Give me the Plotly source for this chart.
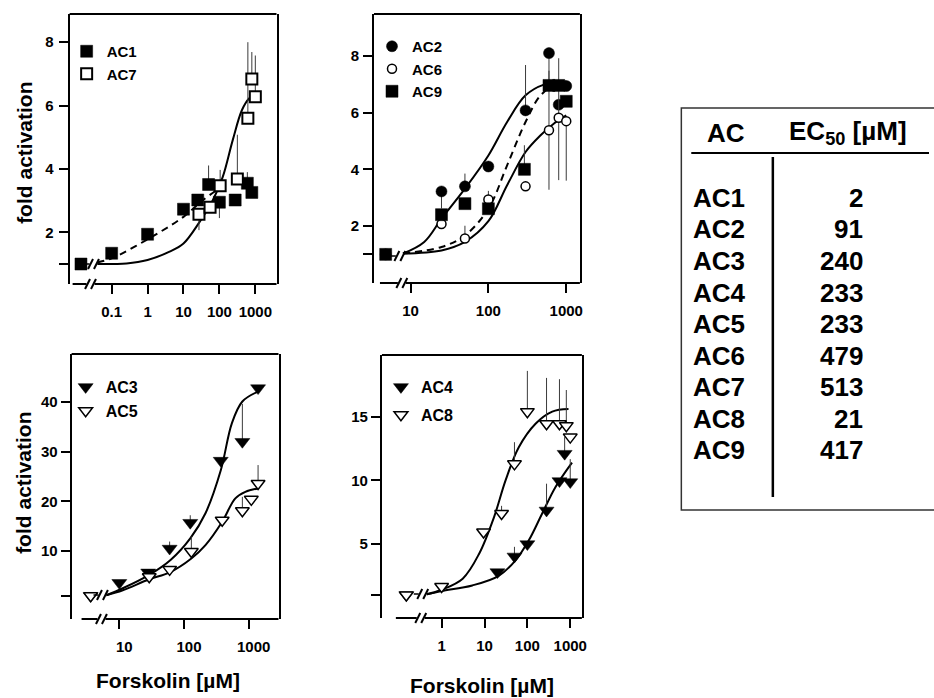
import plotly.graph_objects as go

FIG_W, FIG_H = 934, 698
FONT = "Liberation Sans, Arial, Helvetica, sans-serif"

# ---------------- data ----------------
# Panel 1: AC1 / AC7
ac1_x = [0.014, 0.1, 1, 10, 25, 50, 100, 275, 600, 800]
ac1_y = [1.0, 1.34, 1.94, 2.73, 3.02, 3.51, 2.95, 3.02, 3.55, 3.26]
ac1_up = [0, 0, 0, 0, 0, 0.6, 0, 0, 0.35, 0]
ac1_dn = [0, 0, 0, 0, 0, 0, 0.5, 0, 0, 0]
ac7_x = [27, 55, 105, 316, 620, 800, 1000]
ac7_y = [2.57, 2.79, 3.47, 3.68, 5.6, 6.84, 6.28]
ac7_up = [0, 0, 0.5, 1.4, 2.4, 0.85, 1.3]
ac7_dn = [0.5, 0, 0, 0, 0, 0, 0]
ac1_fit_x = [0.04, 0.1, 1, 10, 35, 100]
ac1_fit_y = [1.05, 1.18, 1.78, 2.49, 3.02, 3.39]
ac7_fit_x = [0.04, 0.26, 1, 4.1, 10, 27, 66, 124, 235, 425, 680, 800]
ac7_fit_y = [1.0, 1.02, 1.13, 1.39, 1.65, 2.3, 3.02, 3.75, 4.91, 5.86, 6.23, 6.28]

# Panel 2: AC2 / AC6 / AC9
ac2_x = [4.8, 25, 50, 100, 300, 600, 800, 1000]
ac2_y = [1.0, 3.22, 3.40, 4.10, 6.08, 8.10, 6.28, 6.94]
ac2_up = [0, 0, 0.45, 0, 1.6, 0, 0, 0]
ac2_dn = [0, 0.6, 0, 0, 0, 1.0, 0, 0]
ac6_x = [4.8, 25, 50, 100, 300, 600, 800, 1000]
ac6_y = [1.0, 2.07, 1.56, 2.94, 3.40, 5.38, 5.82, 5.70]
ac6_up = [0, 0, 0.45, 0.3, 0, 2.1, 2.1, 0]
ac6_dn = [0, 0, 0, 0, 0, 2.1, 2.2, 2.1]
ac9_x = [4.8, 25, 50, 100, 290, 600, 800, 1000]
ac9_y = [1.0, 2.40, 2.79, 2.61, 4.00, 6.96, 6.96, 6.40]
ac9_up = [0, 0, 0, 0, 0.85, 0, 0, 0]
ac9_dn = [0, 0, 0, 0, 0, 0, 0, 0]
ac2_fit_x = [8, 15, 25, 50, 100, 174, 300, 516, 1000]
ac2_fit_y = [1.03, 1.44, 2.26, 3.32, 4.49, 5.67, 6.61, 6.99, 7.1]
ac9_fit_x = [8, 25, 50, 100, 174, 300, 468, 690, 1000]
ac9_fit_y = [1.03, 1.26, 1.67, 2.61, 4.14, 5.67, 6.61, 6.94, 7.0]
ac6_fit_x = [8, 25, 50, 100, 174, 300, 468, 690, 1000]
ac6_fit_y = [1.03, 1.14, 1.44, 2.17, 3.44, 4.61, 5.2, 5.61, 5.9]

# Panel 3: AC3 / AC5
ac3_x = [3.6, 10, 28, 60, 125, 370, 800, 1400]
ac3_y = [1.0, 3.6, 5.7, 10.5, 15.7, 28.2, 32.0, 42.8]
ac3_up = [0, 0, 0, 1.4, 1.5, 0, 7.6, 0]
ac3_dn = [0, 0, 0, 0, 0, 0, 0, 0]
ac5_x = [3.6, 29, 60, 130, 390, 800, 1100, 1400]
ac5_y = [1.0, 4.8, 6.3, 9.9, 16.2, 18.1, 20.4, 23.6]
ac5_up = [0, 0, 0, 3.0, 0, 2.8, 0, 3.7]
ac5_dn = [0, 0, 0, 0, 0, 0, 0, 0]
ac3_fit_x = [6.3, 11.3, 29, 62, 126, 215, 372, 550, 800, 1400]
ac3_fit_y = [1.1, 2.5, 5.2, 8.2, 12.6, 17.6, 26.3, 35.7, 40.1, 42.1]
ac5_fit_x = [6.3, 11.3, 29, 60, 130, 215, 390, 623, 890, 1400]
ac5_fit_y = [1.1, 2.1, 4.3, 5.7, 8.5, 11.2, 15.9, 20.6, 21.9, 22.6]

# Panel 4: AC4 / AC8
ac4_x = [0.15, 20, 50, 100, 280, 560, 740, 1000]
ac4_y = [1.0, 2.8, 4.03, 5.0, 7.64, 9.95, 12.1, 9.87]
ac4_up = [0, 0, 0.75, 0, 2.1, 0, 1.3, 1.8]
ac4_dn = [0, 0, 0, 0, 0, 0, 0, 0]
ac8_x = [0.15, 1, 9.5, 25, 50, 100, 280, 560, 810, 1000]
ac8_y = [1.0, 1.67, 5.94, 7.4, 11.3, 15.4, 14.45, 14.45, 14.3, 13.4]
ac8_up = [0, 0, 0, 0.6, 1.7, 3.2, 3.6, 3.5, 2.8, 0]
ac8_dn = [0, 0, 0, 0, 0, 0, 0, 0, 0, 0]
ac8_fit_x = [0.45, 1, 3.1, 7.5, 16.7, 31, 63, 155, 380, 910]
ac8_fit_y = [1.05, 1.41, 2.28, 4.24, 7.12, 10.0, 12.6, 14.45, 15.4, 15.6]
ac4_fit_x = [0.45, 1, 5.2, 21, 53, 108, 220, 450, 1100]
ac4_fit_y = [1.05, 1.3, 1.75, 2.48, 3.72, 5.29, 7.38, 9.47, 11.4]

# EC50 table
table_ac = ["AC1", "AC2", "AC3", "AC4", "AC5", "AC6", "AC7", "AC8", "AC9"]
table_ec50 = [2, 91, 240, 233, 233, 479, 513, 21, 417]

# ---------------- layout helpers ----------------
def px(x):
    return x / FIG_W


def py(y):
    return 1 - y / FIG_H


# frame of each panel in pixels and its axis ranges (log10 for x)
panels = {
    1: dict(l=70, r=278, t=14, b=284, xr=[-2.17, 3.59], yr=[0.37, 8.89],
            xt=[0.1, 1, 10, 100, 1000], yt=[2, 4, 6, 8], xstart=73, brk=91, cbrk=(94, 264),
            ystand=2, xshift=0),
    2: dict(l=376, r=583, t=14, b=283, xr=[0.531, 3.175], yr=[-0.01, 9.48],
            xt=[10, 100, 1000], yt=[2, 4, 6, 8], xstart=382, brk=404, cbrk=(402, 256),
            ystand=1, xshift=0),
    3: dict(l=72, r=280, t=354, b=619, xr=[0.262, 3.462], yr=[-3.69, 49.66],
            xt=[10, 100, 1000], yt=[10, 20, 30, 40], xstart=82, brk=102, cbrk=(103, 595),
            ystand=0, xshift=5),
    4: dict(l=384, r=585, t=355, b=618, xr=[-1.392, 3.271], yr=[-0.81, 19.85],
            xt=[1, 10, 100, 1000], yt=[5, 10, 15], xstart=398, brk=423, cbrk=(425, 594),
            ystand=0, xshift=0),
}

fig = go.Figure()


def add_curve(k, x, y, dash="solid"):
    fig.add_trace(go.Scatter(
        x=x, y=y, mode="lines", showlegend=False, hoverinfo="skip",
        line=dict(color="black", width=2, dash=dash, shape="spline", smoothing=1.0),
        xaxis="x" if k == 1 else "x%d" % k, yaxis="y" if k == 1 else "y%d" % k))


def add_points(k, name, x, y, up, dn, symbol, filled, size, lw):
    fig.add_trace(go.Scatter(
        x=x, y=y, mode="markers", name=name, legendgroup=name,
        legend="legend" if k == 1 else "legend%d" % k,
        marker=dict(symbol=symbol, size=size,
                    color="black" if filled else "white",
                    line=dict(color="black", width=lw)),
        error_y=dict(type="data", symmetric=False, array=up, arrayminus=dn,
                     color="#3a3a3a", thickness=1, width=0),
        xaxis="x" if k == 1 else "x%d" % k, yaxis="y" if k == 1 else "y%d" % k))


# panel 1
add_curve(1, ac1_fit_x, ac1_fit_y, dash="7px,5px")
add_curve(1, ac7_fit_x, ac7_fit_y)
add_points(1, "AC1", ac1_x, ac1_y, ac1_up, ac1_dn, "square", True, 12, 0.5)
add_points(1, "AC7", ac7_x, ac7_y, ac7_up, ac7_dn, "square", False, 11, 2)

# panel 2
add_curve(2, ac2_fit_x, ac2_fit_y)
add_curve(2, ac9_fit_x, ac9_fit_y, dash="7px,5px")
add_curve(2, ac6_fit_x, ac6_fit_y)
add_points(2, "AC2", ac2_x, ac2_y, ac2_up, ac2_dn, "circle", True, 11, 0.5)
add_points(2, "AC6", ac6_x, ac6_y, ac6_up, ac6_dn, "circle", False, 9, 1.5)
add_points(2, "AC9", ac9_x, ac9_y, ac9_up, ac9_dn, "square", True, 12, 0.5)

# panel 3
add_curve(3, ac3_fit_x, ac3_fit_y)
add_curve(3, ac5_fit_x, ac5_fit_y)
add_points(3, "AC3", ac3_x, ac3_y, ac3_up, ac3_dn, "triangle-down", True, 13, 0.5)
add_points(3, "AC5", ac5_x, ac5_y, ac5_up, ac5_dn, "triangle-down", False, 12, 1.5)

# panel 4
add_curve(4, ac8_fit_x, ac8_fit_y)
add_curve(4, ac4_fit_x, ac4_fit_y)
add_points(4, "AC4", ac4_x, ac4_y, ac4_up, ac4_dn, "triangle-down", True, 13, 0.5)
add_points(4, "AC8", ac8_x, ac8_y, ac8_up, ac8_dn, "triangle-down", False, 12, 1.5)

tick_font = dict(family=FONT, size=15, color="black", weight="bold")
layout = dict(
    width=FIG_W, height=FIG_H, margin=dict(l=0, r=0, t=0, b=0),
    paper_bgcolor="white", plot_bgcolor="white", showlegend=True,
)

shapes = []
black = "black"


def line_px(x0, y0, x1, y1, w=2, color=black):
    shapes.append(dict(type="line", xref="paper", yref="paper",
                       x0=px(x0), y0=py(y0), x1=px(x1), y1=py(y1),
                       line=dict(color=color, width=w)))


def slashes(cx, cy):
    for dx in (-3, 3):
        line_px(cx + dx - 2.5, cy + 5, cx + dx + 2.5, cy - 5, w=2)


for k, p in panels.items():
    sx = "" if k == 1 else str(k)
    layout["xaxis" + sx] = dict(
        type="log", range=p["xr"], domain=[px(p["l"]), px(p["r"])],
        anchor="y" + sx, showline=False, showgrid=False, zeroline=False,
        ticks="outside", ticklen=9, tickwidth=2, tickcolor=black,
        tickvals=p["xt"], ticktext=["%g" % v for v in p["xt"]],
        tickfont=tick_font, ticklabelstandoff=5, ticklabelshift=p["xshift"],
        fixedrange=True)
    layout["yaxis" + sx] = dict(
        range=p["yr"], domain=[py(p["b"]), py(p["t"])], anchor="x" + sx,
        showline=True, linewidth=2, linecolor=black, mirror=True,
        showgrid=False, zeroline=False,
        ticks="outside", ticklen=9, tickwidth=2, tickcolor=black,
        tickvals=p["yt"], ticktext=["%g" % v for v in p["yt"]],
        minor=dict(tickmode="array", tickvals=[1], ticks="outside", ticklen=9,
                   tickwidth=2, tickcolor=black, showgrid=False),
        tickfont=tick_font, ticklabelstandoff=p["ystand"], fixedrange=True)
    # top edge of the frame
    line_px(p["l"], p["t"], p["r"], p["t"])
    # broken x axis line
    line_px(p["xstart"], p["b"], p["brk"] - 4, p["b"])
    line_px(p["brk"] + 4, p["b"], p["r"], p["b"])
    slashes(p["brk"], p["b"])
    # break between control value and the curves
    cx, cy = p["cbrk"]
    line_px(cx - 9, cy, cx - 4, cy, w=1.5)
    slashes(cx, cy)

# table
line_px(695, 153, 934, 153, w=2)
line_px(777, 157, 777, 497, w=2.5)
shapes.append(dict(type="rect", xref="paper", yref="paper",
                   x0=px(685), y0=py(510), x1=px(945), y1=py(108),
                   line=dict(color="#333", width=1.5)))

annotations = []
title_font = dict(family=FONT, size=21, color="black", weight="bold")
for yc in (153, 483):
    annotations.append(dict(text="fold activation", x=px(24), y=py(yc), xref="paper", yref="paper",
                            textangle=-90, showarrow=False, font=title_font,
                            xanchor="center", yanchor="middle"))
for xc, yc in ((169, 680), (485, 685)):
    annotations.append(dict(text="Forskolin [µM]", x=px(xc), y=py(yc), xref="paper", yref="paper",
                            showarrow=False, font=title_font, xanchor="center", yanchor="middle"))

table_font = dict(family=FONT, size=26, color="black", weight="bold")
annotations.append(dict(text="AC", x=px(730), y=py(133), xref="paper", yref="paper",
                        showarrow=False, font=table_font, xanchor="center", yanchor="middle"))
annotations.append(dict(text="EC<sub>50</sub> [µM]", x=px(853), y=py(133), xref="paper", yref="paper",
                        showarrow=False, font=table_font, xanchor="center", yanchor="middle"))
for i, (name, val) in enumerate(zip(table_ac, table_ec50)):
    yc = 198 + 31.5 * i
    annotations.append(dict(text=name, x=px(695), y=py(yc), xref="paper", yref="paper",
                            showarrow=False, font=table_font, xanchor="left", yanchor="middle"))
    annotations.append(dict(text=str(val), x=px(870), y=py(yc), xref="paper", yref="paper",
                            showarrow=False, font=table_font, xanchor="right", yanchor="middle"))

layout["shapes"] = shapes
layout["annotations"] = annotations


def legend_box(xl, yt, size, gap):
    return dict(x=px(xl), y=py(yt), xref="paper", yref="paper", xanchor="left", yanchor="top",
                bgcolor="rgba(0,0,0,0)", borderwidth=0, itemclick=False, itemdoubleclick=False,
                tracegroupgap=gap,
                font=dict(family=FONT, size=size, color="black", weight="bold"))


layout["legend"] = legend_box(67, 35, 15, 0)
layout["legend2"] = legend_box(374, 30, 15, 0)
layout["legend3"] = legend_box(66, 370, 16, 0)
layout["legend4"] = legend_box(383, 370, 16, 4)

fig.update_layout(**layout)
fig.write_html("out.html")
